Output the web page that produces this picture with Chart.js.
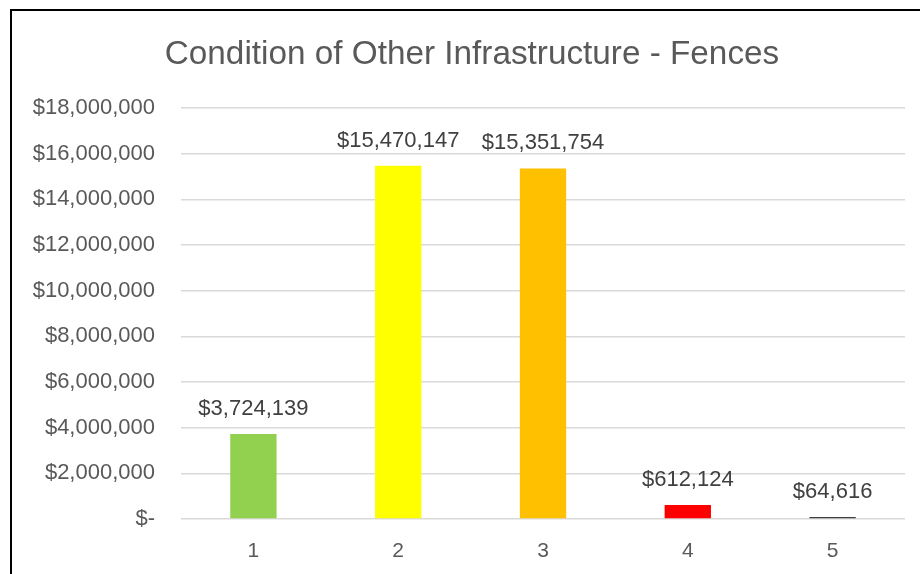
<!DOCTYPE html>
<html>
<head>
<meta charset="utf-8">
<script src="https://cdn.jsdelivr.net/npm/chart.js@4"></script>
<style>
  html, body { margin: 0; padding: 0; background: #fff; overflow: hidden; }
  #frame { position: absolute; left: 10px; top: 9px; width: 924px; height: 620px; border: 2px solid #000; }
</style>
</head>
<body>
<div id="frame"><canvas id="c" width="924" height="620"></canvas></div>
<script>
// chart data
const categories = ['1', '2', '3', '4', '5'];
const values = [3724139, 15470147, 15351754, 612124, 64616];
const barColors = ['#92D050', '#FFFF00', '#FFC000', '#FF0000', '#404040'];
const yTicks = [0, 2000000, 4000000, 6000000, 8000000, 10000000, 12000000, 14000000, 16000000, 18000000];

const fontFamily = '"Liberation Sans", Arial, sans-serif';

function money(v){
  if (v === 0) return '$-';
  return '$' + v.toLocaleString('en-US');
}

// value labels above each bar
const barLabels = {
  id: 'barLabels',
  afterDatasetsDraw(chart){
    const ctx = chart.ctx;
    const meta = chart.getDatasetMeta(0);
    ctx.save();
    ctx.font = '22px ' + fontFamily;
    ctx.fillStyle = '#404040';
    ctx.textAlign = 'center';
    ctx.textBaseline = 'middle';
    meta.data.forEach(function(bar, i){
      ctx.fillText(money(values[i]), bar.x, bar.y - 25);
    });
    ctx.restore();
  }
};

new Chart(document.getElementById('c').getContext('2d'), {
  type: 'bar',
  data: {
    labels: categories,
    datasets: [{
      data: values,
      backgroundColor: barColors,
      categoryPercentage: 1,
      barPercentage: 0.32,
      minBarLength: 2
    }]
  },
  options: {
    responsive: false,
    animation: false,
    layout: { padding: { left: 27, right: 31, top: 0, bottom: 0 } },
    plugins: {
      legend: { display: false },
      tooltip: { enabled: false },
      title: {
        display: true,
        text: 'Condition of Other Infrastructure - Fences',
        color: '#595959',
        font: { family: fontFamily, size: 33.3, weight: 'normal' },
        padding: { top: 24, bottom: 33 }
      }
    },
    scales: {
      x: {
        grid: { display: false },
        border: { display: false },
        ticks: { color: '#595959', font: { family: fontFamily, size: 21 }, padding: 12 },
        afterFit: function(s){ s.height = 112; }
      },
      y: {
        min: 0,
        max: 18000000,
        afterBuildTicks: function(s){ s.ticks = yTicks.map(function(v){ return { value: v }; }); },
        grid: { color: '#d9d9d9', lineWidth: 1.5, drawTicks: false },
        border: { display: false },
        ticks: {
          color: '#595959',
          font: { family: fontFamily, size: 22 },
          padding: 26,
          callback: function(v){ return money(v); }
        },
        afterFit: function(s){
          s.width = 142;
          // labels are wider than the axis box; don't clip them
          s._computeLabelArea = function(){ return undefined; };
        }
      }
    }
  },
  plugins: [barLabels]
});
</script>
</body>
</html>
